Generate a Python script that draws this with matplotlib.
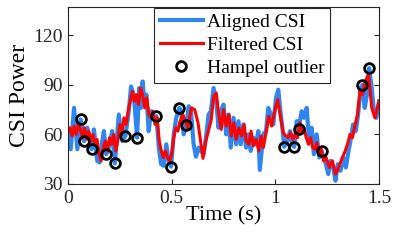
import matplotlib
matplotlib.use("Agg")
import matplotlib.pyplot as plt

plt.rcParams["font.family"] = "serif"
plt.rcParams["font.serif"] = ["Liberation Serif", "Times New Roman", "DejaVu Serif"]

# aligned (raw) CSI power
aligned_t = [0.000, 0.013, 0.029, 0.045, 0.061, 0.077, 0.093, 0.114, 0.125, 0.141,
             0.152, 0.165, 0.173, 0.184, 0.197, 0.213, 0.226, 0.245, 0.261, 0.277,
             0.293, 0.304, 0.317, 0.326, 0.333, 0.343, 0.352, 0.360, 0.369, 0.378,
             0.389, 0.401, 0.413, 0.426, 0.438, 0.449, 0.462, 0.474, 0.486, 0.497,
             0.510, 0.522, 0.537, 0.545, 0.558, 0.571, 0.582, 0.593, 0.606, 0.617,
             0.630, 0.641, 0.654, 0.667, 0.678, 0.689, 0.702, 0.715, 0.726, 0.737,
             0.750, 0.763, 0.774, 0.785, 0.798, 0.811, 0.822, 0.833, 0.846, 0.859,
             0.870, 0.881, 0.894, 0.907, 0.918, 0.925, 0.942, 0.955, 0.966, 0.978,
             0.990, 1.003, 1.014, 1.026, 1.034, 1.043, 1.058, 1.071, 1.082, 1.091,
             1.103, 1.112, 1.127, 1.138, 1.151, 1.163, 1.175, 1.186, 1.199, 1.212,
             1.223, 1.244, 1.255, 1.266, 1.279, 1.290, 1.301, 1.314, 1.327, 1.340,
             1.353, 1.362, 1.375, 1.388, 1.399, 1.412, 1.420, 1.431, 1.442, 1.452,
             1.463, 1.474, 1.487, 1.500]
aligned = [63, 51, 76, 51, 69, 56, 64, 51, 63, 44,
           43, 56, 62, 48, 52, 62, 42.5, 72, 56, 59,
           74, 89, 84, 70, 58, 88, 76, 92, 78, 84,
           62, 74, 70, 71, 52, 42, 41, 54, 44, 40.5,
           60, 70, 76, 74, 60, 65.5, 77, 74, 54, 46.5,
           52, 50, 48, 60, 72, 74, 88, 80, 64, 74,
           78, 60, 72, 52, 70, 54, 68, 54, 66, 52,
           60, 50, 58, 54, 62, 38.5, 60, 62, 76, 72,
           66, 82, 87, 72, 64, 52.5, 56, 62, 54, 52.5,
           68, 63.5, 74, 70, 76, 56, 64, 48, 60, 46,
           50, 42, 36, 44, 40, 32, 42, 38, 46, 40,
           50, 56, 66, 62, 72, 88, 90, 76, 84, 100,
           90, 76, 70, 80]

# filtered CSI power
filtered_t = [0.000, 0.010, 0.020, 0.030, 0.040, 0.050, 0.060, 0.070, 0.080, 0.090,
              0.100, 0.110, 0.120, 0.130, 0.140, 0.150, 0.160, 0.170, 0.180, 0.190,
              0.200, 0.210, 0.220, 0.230, 0.240, 0.250, 0.260, 0.270, 0.280, 0.290,
              0.300, 0.310, 0.320, 0.330, 0.340, 0.350, 0.360, 0.370, 0.380, 0.390,
              0.400, 0.410, 0.420, 0.430, 0.440, 0.450, 0.460, 0.470, 0.480, 0.490,
              0.500, 0.510, 0.520, 0.530,
              0.538, 0.554, 0.578, 0.595, 0.611, 0.627, 0.638, 0.651, 0.663, 0.679,
              0.691, 0.703, 0.715, 0.727, 0.739, 0.750, 0.763, 0.776, 0.787, 0.800,
              0.811, 0.824, 0.837, 0.849, 0.859, 0.872, 0.883, 0.894, 0.907, 0.920,
              0.931, 0.942, 0.955, 0.968, 0.982, 0.995, 1.011, 1.024, 1.038, 1.051,
              1.062, 1.074, 1.085, 1.096, 1.107, 1.118, 1.128, 1.138, 1.149, 1.160,
              1.170, 1.180, 1.190, 1.200, 1.210, 1.222, 1.232, 1.245, 1.260, 1.275,
              1.290, 1.305, 1.320, 1.337, 1.350, 1.360, 1.372, 1.385, 1.396, 1.408,
              1.420, 1.433, 1.449, 1.465, 1.480, 1.500]
filtered = [61, 64, 59, 65, 60, 66, 63, 58, 64, 57,
            62, 56, 60, 54, 57, 48, 44, 52, 56, 50,
            58, 54, 60, 50, 56, 66, 60, 70, 66, 74,
            80, 86, 80, 84, 78, 88, 84, 76, 82, 72,
            70, 74, 66, 70, 56, 50, 46, 50, 46, 44,
            48, 58, 64, 62,
            67, 72, 64, 76, 75, 67, 57, 45.5, 55, 63,
            69, 83, 85, 72, 63, 75, 65, 72, 59, 67,
            57, 64, 59, 66, 56, 54, 62, 53, 57, 50,
            59, 52, 61, 71, 65, 73, 81, 71, 61, 59,
            58, 61, 57, 60, 58, 67, 61, 64, 58, 54,
            58, 52, 51, 55, 48, 51, 44, 46, 40, 44,
            36, 40, 45, 50, 55, 60, 58, 66, 72, 86,
            84, 92, 96, 76, 70, 80]

# Hampel outliers
outlier_t = [0.061, 0.077, 0.114, 0.184, 0.226, 0.277, 0.333, 0.426, 0.497,
             0.537, 0.571, 1.043, 1.091, 1.112, 1.223, 1.420, 1.452]
outlier = [69, 56, 51, 48, 42.5, 59, 58, 71, 40.5,
           76, 65.5, 52.5, 52.5, 63.5, 50, 90, 100]

fig = plt.figure(figsize=(3.94, 2.5), dpi=100)
ax = fig.add_axes([0.1726, 0.264, 0.7894, 0.708])

ax.plot(aligned_t, aligned, color="#2f86f2", lw=3, label="Aligned CSI")
ax.plot(filtered_t, filtered, color="#ff0000", lw=2.2, label="Filtered CSI")
ax.plot(outlier_t, outlier, "o", ms=7, mfc="none", mec="black", mew=2,
        label="Hampel outlier")

ax.set_xlim(0, 1.5)
ax.set_ylim(30, 137)
ax.set_xticks([0, 0.5, 1, 1.5])
ax.set_xticklabels(["0", "0.5", "1", "1.5"])
ax.set_yticks([30, 60, 90, 120])
ax.tick_params(direction="in", length=3.5, width=0.8, labelsize=14,
               top=True, right=True, colors="#262626", pad=4)
for s in ax.spines.values():
    s.set_linewidth(0.8)
    s.set_color("#262626")

ax.set_xlabel("Time (s)", fontsize=16, labelpad=0)
ax.set_ylabel("CSI Power", fontsize=17, labelpad=2)

leg = ax.legend(loc="upper left", bbox_to_anchor=(0.277, 0.996), borderaxespad=0,
                fontsize=14, fancybox=False, framealpha=1, edgecolor="#262626",
                handlelength=2.2, handletextpad=0.2, labelspacing=0.28,
                borderpad=0.3)
leg.get_frame().set_linewidth(0.8)

fig.savefig("out.png", dpi=100)
